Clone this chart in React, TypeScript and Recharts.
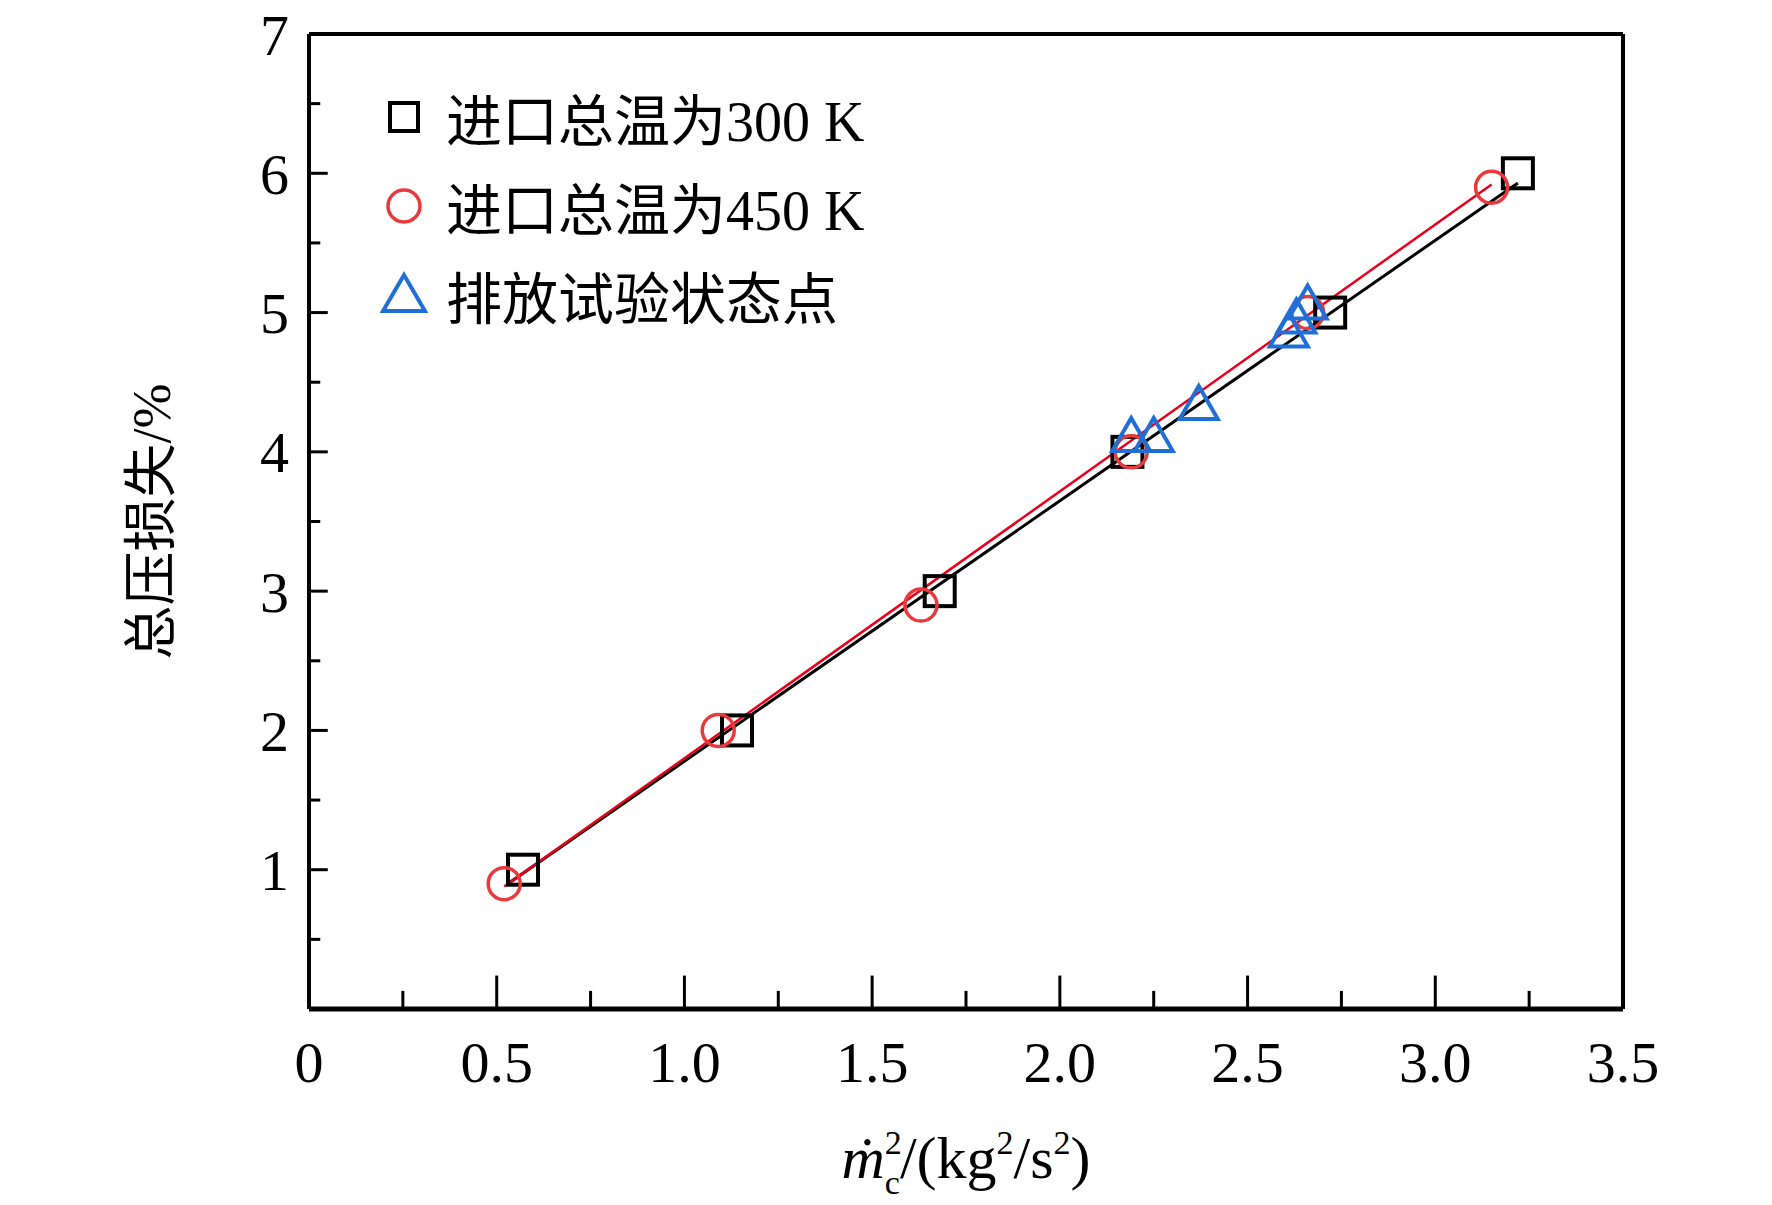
import React from "react";
import {
  ComposedChart,
  Scatter,
  Line,
  XAxis,
  YAxis,
  ReferenceLine,
  Label,
} from "recharts";

const squares300 = [
  { x: 0.57, y: 1.0 },
  { x: 1.14, y: 2.0 },
  { x: 1.68, y: 3.0 },
  { x: 2.18, y: 4.0 },
  { x: 2.72, y: 5.0 },
  { x: 3.22, y: 6.0 },
];
const circles450 = [
  { x: 0.52, y: 0.9 },
  { x: 1.09, y: 2.0 },
  { x: 1.63, y: 2.9 },
  { x: 2.19, y: 4.0 },
  { x: 2.66, y: 5.0 },
  { x: 3.15, y: 5.9 },
];
const triangles = [
  { x: 2.19, y: 4.1 },
  { x: 2.25, y: 4.1 },
  { x: 2.37, y: 4.33 },
  { x: 2.61, y: 4.85 },
  { x: 2.63, y: 4.95 },
  { x: 2.66, y: 5.05 },
];
const fit300 = [
  { x: 0.53, y: 0.9 },
  { x: 3.22, y: 5.93 },
];
const fit450 = [
  { x: 0.52, y: 0.88 },
  { x: 3.15, y: 5.92 },
];
const xTicks = [0, 0.5, 1, 1.5, 2, 2.5, 3, 3.5];
const xMinor = [0.25, 0.75, 1.25, 1.75, 2.25, 2.75, 3.25];
const yTicks = [1, 2, 3, 4, 5, 6, 7];
const yMinor = [0.5, 1.5, 2.5, 3.5, 4.5, 5.5, 6.5];
const legendItems = [
  { name: "进口总温为300 K", kind: "square", color: "#000000" },
  { name: "进口总温为450 K", kind: "circle", color: "#e8393c" },
  { name: "排放试验状态点", kind: "triangle", color: "#1f6fd6" },
];

const FONT = "'Liberation Serif', 'Times New Roman', serif";
const MIX = "'Liberation Serif', 'Noto Sans CJK SC', serif";

const SquareShape = (p: any) => (
  <rect x={p.cx - 15} y={p.cy - 15} width={30} height={30} fill="none" stroke="#000" strokeWidth={4} />
);
const CircleShape = (p: any) => (
  <circle cx={p.cx} cy={p.cy} r={16} fill="none" stroke="#e8393c" strokeWidth={3.5} />
);
const TriShape = (p: any) => (
  <path
    d={`M${p.cx},${p.cy - 20} L${p.cx + 19},${p.cy + 13} L${p.cx - 19},${p.cy + 13} Z`}
    fill="none"
    stroke="#1f6fd6"
    strokeWidth={4}
  />
);

const Marker = ({ kind, color }: { kind: string; color: string }) => (
  <svg width={48} height={48} style={{ marginRight: 18 }}>
    {kind === "square" && <rect x={10} y={10} width={28} height={28} fill="none" stroke={color} strokeWidth={4} />}
    {kind === "circle" && <circle cx={24} cy={24} r={16} fill="none" stroke={color} strokeWidth={3.5} />}
    {kind === "triangle" && <path d="M24,4 L45,40 L3,40 Z" fill="none" stroke={color} strokeWidth={4} />}
  </svg>
);

const LegendBox = () => (
  <div style={{ position: "absolute", left: 380, top: 72 }}>
    {legendItems.map((it) => (
      <div key={it.name} style={{ display: "flex", alignItems: "center", height: 89 }}>
        <Marker kind={it.kind} color={it.color} />
        <span style={{ fontFamily: MIX, fontSize: 56, color: "#000", whiteSpace: "nowrap" }}>{it.name}</span>
      </div>
    ))}
  </div>
);

const XTitle = (props: any) => {
  const vb = props.viewBox;
  const cx = vb.x + vb.width / 2;
  return (
    <text x={cx} y={1178} textAnchor="middle" fontFamily={FONT} fontSize={60} fill="#000">
      <tspan fontStyle="italic">ṁ</tspan>
      <tspan fontSize={34} dy={-24}>2</tspan>
      <tspan fontSize={34} dx={-17} dy={40}>c</tspan>
      <tspan dy={-16}>/(kg</tspan>
      <tspan fontSize={34} dy={-24}>2</tspan>
      <tspan dy={24}>/s</tspan>
      <tspan fontSize={34} dy={-24}>2</tspan>
      <tspan dy={24}>)</tspan>
    </text>
  );
};

export default function App() {
  return (
    <div style={{ position: "absolute", left: 0, top: 0, background: "#fff" }}>
      <ComposedChart width={1772} height={1205} margin={{ top: 34, right: 149, bottom: 96, left: 229 }}>
        <XAxis
          type="number"
          dataKey="x"
          domain={[0, 3.5]}
          ticks={xTicks}
          tickFormatter={(v: number) => (v === 0 ? "0" : v.toFixed(1))}
          tickLine={false}
          axisLine={{ stroke: "#000", strokeWidth: 5 }}
          tick={{ fontFamily: FONT, fontSize: 58, fill: "#000" }}
          tickMargin={26}
          height={100}
          allowDataOverflow
        >
          <Label content={<XTitle />} />
        </XAxis>
        <YAxis
          type="number"
          dataKey="y"
          domain={[0, 7]}
          ticks={yTicks}
          tickLine={false}
          axisLine={{ stroke: "#000", strokeWidth: 4 }}
          tick={{ fontFamily: FONT, fontSize: 58, fill: "#000" }}
          tickMargin={14}
          width={80}
          allowDataOverflow
        >
          <Label
            value="总压损失/%"
            angle={-90}
            position="center"
            dx={-118}
            style={{ fontFamily: MIX, fontSize: 54, fill: "#000" }}
          />
        </YAxis>
        <ReferenceLine y={7} stroke="#000" strokeWidth={4} />
        <ReferenceLine x={3.5} stroke="#000" strokeWidth={4} />
        {xTicks.map((v) => (
          <ReferenceLine key={"xm" + v} segment={[{ x: v, y: 0 }, { x: v, y: 0.24 }]} stroke="#000" strokeWidth={3} />
        ))}
        {xMinor.map((v) => (
          <ReferenceLine key={"xn" + v} segment={[{ x: v, y: 0 }, { x: v, y: 0.13 }]} stroke="#000" strokeWidth={3} />
        ))}
        {yTicks.map((v) => (
          <ReferenceLine key={"ym" + v} segment={[{ x: 0, y: v }, { x: 0.05, y: v }]} stroke="#000" strokeWidth={3} />
        ))}
        {yMinor.map((v) => (
          <ReferenceLine key={"yn" + v} segment={[{ x: 0, y: v }, { x: 0.03, y: v }]} stroke="#000" strokeWidth={3} />
        ))}
        <Line data={fit300} dataKey="y" stroke="#000" strokeWidth={3} dot={false} isAnimationActive={false} />
        <Line data={fit450} dataKey="y" stroke="#e8001c" strokeWidth={2.5} dot={false} isAnimationActive={false} />
        <Scatter data={squares300} shape={SquareShape} isAnimationActive={false} />
        <Scatter data={circles450} shape={CircleShape} isAnimationActive={false} />
        <Scatter data={triangles} shape={TriShape} isAnimationActive={false} />
      </ComposedChart>
      <LegendBox />
    </div>
  );
}
